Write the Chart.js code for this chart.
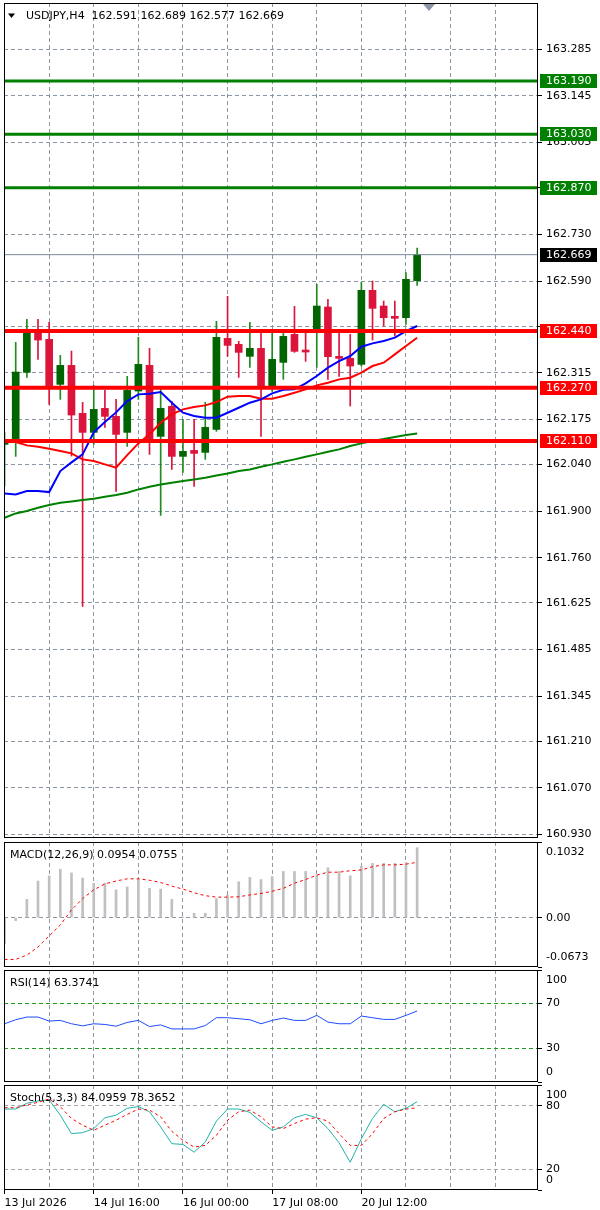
<!DOCTYPE html>
<html><head><meta charset="utf-8">
<script src="https://cdn.jsdelivr.net/npm/chart.js@4.4.1/dist/chart.umd.min.js"></script>
<style>
html,body{margin:0;padding:0;background:#fff;}
#wrap{position:relative;width:600px;height:1210px;overflow:hidden;background:#fff;}
canvas{position:absolute;left:0;}
</style></head><body>
<div id="wrap">
<canvas id="cMain" style="top:0px" width="600" height="841"></canvas>
<canvas id="cMacd" style="top:840px" width="600" height="130"></canvas>
<canvas id="cRsi" style="top:968px" width="600" height="117"></canvas>
<canvas id="cStoch" style="top:1083px" width="600" height="127"></canvas>
</div>
<script>
// ---------------- DATA ----------------
const SYMBOL = 'USDJPY';
const TIMEFRAME = 'H4';
const OPEN  = [162.100,162.110,162.316,162.445,162.415,162.280,162.337,162.193,162.136,162.208,162.184,162.136,162.260,162.337,162.124,162.214,162.064,162.082,162.076,162.145,162.418,162.400,162.364,162.388,162.274,162.346,162.430,162.383,162.443,162.512,162.364,162.358,162.340,162.562,162.515,162.484,162.480,162.591];
const HIGH  = [162.136,162.406,162.475,162.475,162.466,162.367,162.380,162.226,162.277,162.262,162.235,162.304,162.421,162.388,162.274,162.229,162.175,162.175,162.226,162.469,162.544,162.409,162.466,162.445,162.445,162.439,162.514,162.439,162.580,162.535,162.439,162.430,162.586,162.590,162.530,162.530,162.615,162.689];
const LOW   = [161.975,162.064,162.301,162.355,162.220,162.235,162.065,161.614,162.100,162.151,161.959,162.094,162.235,162.070,161.887,162.025,162.016,161.974,162.055,162.139,162.364,162.301,162.331,162.124,162.259,162.295,162.376,162.349,162.331,162.295,162.304,162.215,162.334,162.413,162.455,162.425,162.460,162.577];
const CLOSE = [162.115,162.317,162.445,162.413,162.275,162.337,162.188,162.136,162.205,162.184,162.130,162.262,162.340,162.115,162.208,162.064,162.079,162.073,162.151,162.421,162.397,162.376,162.388,162.274,162.355,162.424,162.379,162.377,162.515,162.363,162.358,162.335,162.562,162.508,162.480,162.478,162.595,162.669];

const MA_FAST = [161.953,161.950,161.960,161.960,161.957,162.020,162.046,162.070,162.136,162.167,162.196,162.230,162.250,162.252,162.257,162.225,162.195,162.185,162.180,162.180,162.195,162.210,162.225,162.235,162.253,162.264,162.265,162.283,162.305,162.330,162.350,162.365,162.393,162.403,162.410,162.420,162.440,162.455];
const MA_MID  = [162.110,162.107,162.097,162.093,162.087,162.080,162.073,162.055,162.050,162.040,162.030,162.068,162.103,162.130,162.165,162.190,162.205,162.212,162.217,162.227,162.243,162.245,162.245,162.237,162.237,162.245,162.255,162.265,162.277,162.285,162.295,162.300,162.315,162.335,162.345,162.370,162.395,162.420];
const MA_SLOW = [161.880,161.893,161.900,161.910,161.918,161.925,161.929,161.933,161.937,161.943,161.948,161.955,161.965,161.973,161.980,161.985,161.990,161.995,162.000,162.007,162.013,162.020,162.025,162.033,162.040,162.048,162.055,162.063,162.070,162.078,162.085,162.095,162.103,162.110,162.116,162.122,162.128,162.133];

const RESISTANCE_LEVELS = [163.190, 163.030, 162.870];
const SUPPORT_LEVELS = [162.440, 162.270, 162.110];
const LAST_PRICE = 162.669;
const MAIN_TICKS = [163.285,163.145,163.005,162.870,162.730,162.590,162.455,162.315,162.175,162.040,161.900,161.760,161.625,161.485,161.345,161.210,161.070,160.930];

const MACD_HIST   = [-0.035,-0.004,0.025,0.050,0.057,0.066,0.061,0.054,0.047,0.047,0.038,0.042,0.052,0.040,0.039,0.025,0.001,0.006,0.006,0.026,0.031,0.049,0.055,0.052,0.056,0.063,0.063,0.063,0.058,0.068,0.063,0.057,0.070,0.074,0.074,0.074,0.075,0.0954];
const MACD_SIGNAL = [-0.057,-0.057,-0.051,-0.040,-0.025,-0.010,0.0105,0.026,0.038,0.046,0.050,0.053,0.053,0.051,0.048,0.043,0.039,0.034,0.030,0.028,0.028,0.0285,0.031,0.033,0.036,0.040,0.047,0.052,0.058,0.062,0.062,0.064,0.065,0.0695,0.072,0.072,0.073,0.0755];
const MACD_TICKS = [-0.0673, 0, 0.1032];
const MACD_TICK_LABELS = ['-0.0673', '0.00', '0.1032'];

const RSI_VALUES = [52.0,55.6,58.0,58.0,54.4,55.0,52.0,50.1,52.0,51.4,49.8,53.2,55.0,49.5,51.0,47.4,47.4,47.4,50.4,57.4,57.4,56.5,55.6,52.0,55.0,57.1,55.0,55.0,59.5,53.5,52.0,52.0,58.9,57.4,55.9,55.9,59.5,63.3741];
const RSI_TICKS = [0, 30, 70, 100];
const RSI_LEVELS = [30, 70];

const STOCH_K = [77.1,77.1,82.6,84.8,85.8,71.3,53.7,54.6,58.5,68.8,71.3,77.8,79.4,74.5,60.1,44.1,43.4,36.0,45.7,65.6,77.1,77.1,73.9,64.9,56.9,60.1,68.8,72.0,68.8,58.5,45.0,26.4,48.9,68.1,81.6,74.5,77.8,84.0959];
const STOCH_D = [78.4,78.4,81.0,83.5,86.7,79.4,68.1,61.7,56.9,61.7,66.5,72.0,77.1,76.1,69.7,55.9,47.3,40.9,42.5,52.1,66.5,74.5,76.1,69.7,60.1,58.5,63.3,67.5,68.8,65.6,53.7,42.5,42.5,53.7,68.1,74.5,77.1,78.3652];
const STOCH_TICKS = [0, 20, 80, 100];
const STOCH_LEVELS = [20, 80];

const TIME_LABELS = ['13 Jul 2026', '14 Jul 16:00', '16 Jul 00:00', '17 Jul 08:00', '20 Jul 12:00'];
const TIME_LABEL_BARS = [0, 8, 16, 24, 32];

// ---------------- STYLE / LAYOUT ----------------
const FONT = "'DejaVu Sans', 'Verdana', sans-serif";
Chart.defaults.font.family = FONT;
Chart.defaults.font.size = 11;
Chart.defaults.color = '#000';
const X_MIN = -0.05, X_MAX = 47.84, X_GRID_STEP = 4;
const MAIN_MIN = 160.9195, MAIN_MAX = 163.4238;
const GRID_COLOR = '#8C97A5';
const DASH = [4, 3];
const AXIS_W = 62;
const BULL = '#006400', BULL_WICK = '#1f8a1f', BEAR = '#DC143C';
const TRANSPARENT = 'rgba(0,0,0,0)';
const BOX_HIDE_RANGE = 0.02;

const pts = arr => arr.map((v, i) => ({x: i, y: v}));
const levelLine = v => [{x: X_MIN, y: v}, {x: X_MAX, y: v}];
const BOX_LEVELS = RESISTANCE_LEVELS.concat(SUPPORT_LEVELS, [LAST_PRICE]);

function noOverhang(s) { s.paddingTop = 0; s.paddingBottom = 0; s.paddingLeft = 0; s.paddingRight = 0; }

function xAxis(showLabels) {
  return {
    type: 'linear', min: X_MIN, max: X_MAX, offset: false,
    afterBuildTicks(s) { const t = []; for (let v = 0; v <= X_MAX; v += X_GRID_STEP) t.push({value: v}); s.ticks = t; },
    afterFit(s) { s.height = showLabels ? 20 : 0; noOverhang(s); },
    ticks: {
      display: showLabels, autoSkip: false, maxRotation: 0, minRotation: 0, align: 'start', padding: 3, color: '#000',
      callback(v) { const k = TIME_LABEL_BARS.indexOf(v); return k >= 0 ? TIME_LABELS[k] : ''; }
    },
    grid: {
      offset: false,
      color: c => (c.tick && c.tick.value === 0) ? TRANSPARENT : GRID_COLOR,
      lineWidth: 1, drawTicks: showLabels, tickLength: 4, tickBorderDash: [],
      tickColor: c => (c.tick && TIME_LABEL_BARS.includes(c.tick.value)) ? '#000' : TRANSPARENT
    },
    border: {display: false, dash: DASH}
  };
}

function yAxis(min, max, ticks, labelFn, gridColorFn) {
  return {
    type: 'linear', position: 'right', min, max,
    afterBuildTicks(s) { s.ticks = ticks.map(v => ({value: v})); },
    afterFit(s) { s.width = AXIS_W; noOverhang(s); },
    ticks: {autoSkip: false, padding: 4, color: '#000', font: {family: FONT, size: 11, lineHeight: '20px'}, callback: labelFn},
    grid: {offset: false, color: gridColorFn, lineWidth: 1, tickLength: 4, tickColor: '#000', tickBorderDash: []},
    border: {display: false, dash: DASH}
  };
}

// inner-aligned extreme labels (top label below its level, bottom label above)
function innerLabels(labels) {
  return (v, i, arr) => {
    const t = labels[i];
    if (i === arr.length - 1) return ['', t];
    if (i === 0) return [t, ''];
    return t;
  };
}

// main price labels: hidden where a price box sits on top of them
const mainLabel = v => BOX_LEVELS.some(l => Math.abs(l - v) < BOX_HIDE_RANGE) ? '' : v.toFixed(3);

const framePlugin = {
  id: 'frame',
  afterDraw(chart) {
    const {ctx, chartArea: a} = chart;
    ctx.save();
    ctx.strokeStyle = '#000'; ctx.lineWidth = 1;
    ctx.strokeRect(a.left + 0.5, a.top + 0.5, a.right - a.left - 1, a.bottom - a.top - 1);
    ctx.restore();
  }
};

function titlePlugin(text) {
  return {
    id: 'title_' + text.length,
    afterDraw(chart) {
      const {ctx, chartArea: a} = chart;
      ctx.save();
      ctx.font = '11px ' + FONT; ctx.fillStyle = '#000'; ctx.textBaseline = 'middle'; ctx.textAlign = 'left';
      ctx.fillText(text, 10, a.top + 13);
      ctx.restore();
    }
  };
}

const mainOverlay = {
  id: 'mainOverlay',
  afterDraw(chart) {
    const {ctx, chartArea: a, scales: {y}} = chart;
    ctx.save();
    // header
    ctx.fillStyle = '#000';
    ctx.beginPath(); ctx.moveTo(8, 13.5); ctx.lineTo(15, 13.5); ctx.lineTo(11.5, 18); ctx.closePath(); ctx.fill();
    const n = CLOSE.length - 1;
    const header = SYMBOL + ',' + TIMEFRAME + '  ' + [OPEN[n], HIGH[n], LOW[n], CLOSE[n]].map(v => v.toFixed(3)).join(' ');
    ctx.font = '11px ' + FONT; ctx.textBaseline = 'middle'; ctx.textAlign = 'left';
    ctx.fillText(header, 26, 16.5);
    // shift marker
    ctx.fillStyle = '#8895A5';
    ctx.beginPath(); ctx.moveTo(423, a.top + 1); ctx.lineTo(435, a.top + 1); ctx.lineTo(429, a.top + 8); ctx.closePath(); ctx.fill();
    // price boxes
    const box = (v, bg) => {
      const py = Math.round(y.getPixelForValue(v));
      ctx.fillStyle = bg; ctx.fillRect(a.right + 2, py - 7, 57, 14);
      ctx.fillStyle = '#fff'; ctx.fillText(v.toFixed(3), a.right + 8, py + 0.5);
    };
    RESISTANCE_LEVELS.forEach(v => box(v, '#008000'));
    SUPPORT_LEVELS.forEach(v => box(v, '#FF0000'));
    box(LAST_PRICE, '#000000');
    ctx.restore();
  }
};

const baseOpts = (padding) => ({
  responsive: false, animation: false, devicePixelRatio: 1, events: [],
  layout: {padding},
  plugins: {legend: {display: false}, tooltip: {enabled: false}}
});

// ---------------- MAIN ----------------
const candleColor = (c, bullCol) => {
  const i = c.dataIndex;
  return CLOSE[i] >= OPEN[i] ? bullCol : BEAR;
};
const mainDatasets = [
  {type: 'bar', data: OPEN.map((o, i) => ({x: i, y: [LOW[i], HIGH[i]]})), barThickness: 1, grouped: false,
   backgroundColor: c => candleColor(c, BULL_WICK), order: 10},
  {type: 'bar', data: OPEN.map((o, i) => ({x: i, y: [o, CLOSE[i]]})), barThickness: 7, minBarLength: 1, grouped: false,
   backgroundColor: c => candleColor(c, BULL), order: 9},
  {type: 'line', data: pts(MA_SLOW), borderColor: '#008000', borderWidth: 2, pointRadius: 0, tension: 0, order: 5},
  {type: 'line', data: pts(MA_MID), borderColor: '#FF0000', borderWidth: 2, pointRadius: 0, tension: 0, order: 4},
  {type: 'line', data: pts(MA_FAST), borderColor: '#0000FF', borderWidth: 2, pointRadius: 0, tension: 0, order: 3},
  {type: 'line', data: levelLine(LAST_PRICE), borderColor: '#778899', borderWidth: 1, pointRadius: 0, order: 2},
  ...RESISTANCE_LEVELS.map(v => ({type: 'line', data: levelLine(v), borderColor: '#008000', borderWidth: 3, pointRadius: 0, order: 1})),
  ...SUPPORT_LEVELS.map(v => ({type: 'line', data: levelLine(v), borderColor: '#FF0000', borderWidth: 4, pointRadius: 0, order: 1}))
];
new Chart(document.getElementById('cMain'), {
  type: 'line',
  data: {datasets: mainDatasets},
  options: Object.assign(baseOpts({left: 4, right: 0, top: 3, bottom: 3}), {
    scales: {
      x: xAxis(false),
      y: yAxis(MAIN_MIN, MAIN_MAX, MAIN_TICKS, mainLabel, () => GRID_COLOR)
    }
  }),
  plugins: [framePlugin, mainOverlay]
});

// ---------------- MACD ----------------
new Chart(document.getElementById('cMacd'), {
  type: 'line',
  data: {datasets: [
    {type: 'bar', data: pts(MACD_HIST), backgroundColor: '#C0C0C0', barThickness: 2, order: 2},
    {type: 'line', data: pts(MACD_SIGNAL), borderColor: '#FF0000', borderWidth: 1, borderDash: [3, 3], pointRadius: 0, tension: 0, order: 1}
  ]},
  options: Object.assign(baseOpts({left: 4, right: 0, top: 2, bottom: 3}), {
    scales: {
      x: xAxis(false),
      y: yAxis(MACD_TICKS[0], MACD_TICKS[MACD_TICKS.length - 1], MACD_TICKS, innerLabels(MACD_TICK_LABELS),
               c => (c.tick && c.tick.value === 0) ? GRID_COLOR : TRANSPARENT)
    }
  }),
  plugins: [framePlugin, titlePlugin('MACD(12,26,9) ' + MACD_HIST[MACD_HIST.length - 1].toFixed(4) + ' ' + MACD_SIGNAL[MACD_SIGNAL.length - 1].toFixed(4))]
});

// ---------------- RSI ----------------
new Chart(document.getElementById('cRsi'), {
  type: 'line',
  data: {datasets: [
    {type: 'line', data: pts(RSI_VALUES), borderColor: '#1E4BFF', borderWidth: 1, pointRadius: 0, tension: 0}
  ]},
  options: Object.assign(baseOpts({left: 4, right: 0, top: 2, bottom: 3}), {
    scales: {
      x: xAxis(false),
      y: yAxis(0, 100, RSI_TICKS, innerLabels(RSI_TICKS.map(String)),
               c => (c.tick && RSI_LEVELS.includes(c.tick.value)) ? '#1E9E1E' : TRANSPARENT)
    }
  }),
  plugins: [framePlugin, titlePlugin('RSI(14) ' + RSI_VALUES[RSI_VALUES.length - 1].toFixed(4))]
});

// ---------------- STOCH ----------------
new Chart(document.getElementById('cStoch'), {
  type: 'line',
  data: {datasets: [
    {type: 'line', data: pts(STOCH_K), borderColor: '#20B2AA', borderWidth: 1, pointRadius: 0, tension: 0, order: 2},
    {type: 'line', data: pts(STOCH_D), borderColor: '#FF0000', borderWidth: 1, borderDash: [3, 3], pointRadius: 0, tension: 0, order: 1}
  ]},
  options: Object.assign(baseOpts({left: 4, right: 0, top: 2, bottom: 0}), {
    scales: {
      x: xAxis(true),
      y: yAxis(0, 100, STOCH_TICKS, innerLabels(STOCH_TICKS.map(String)),
               c => (c.tick && STOCH_LEVELS.includes(c.tick.value)) ? '#A8A8A8' : TRANSPARENT)
    }
  }),
  plugins: [framePlugin, titlePlugin('Stoch(5,3,3) ' + STOCH_K[STOCH_K.length - 1].toFixed(4) + ' ' + STOCH_D[STOCH_D.length - 1].toFixed(4))]
});
</script>
</body></html>
